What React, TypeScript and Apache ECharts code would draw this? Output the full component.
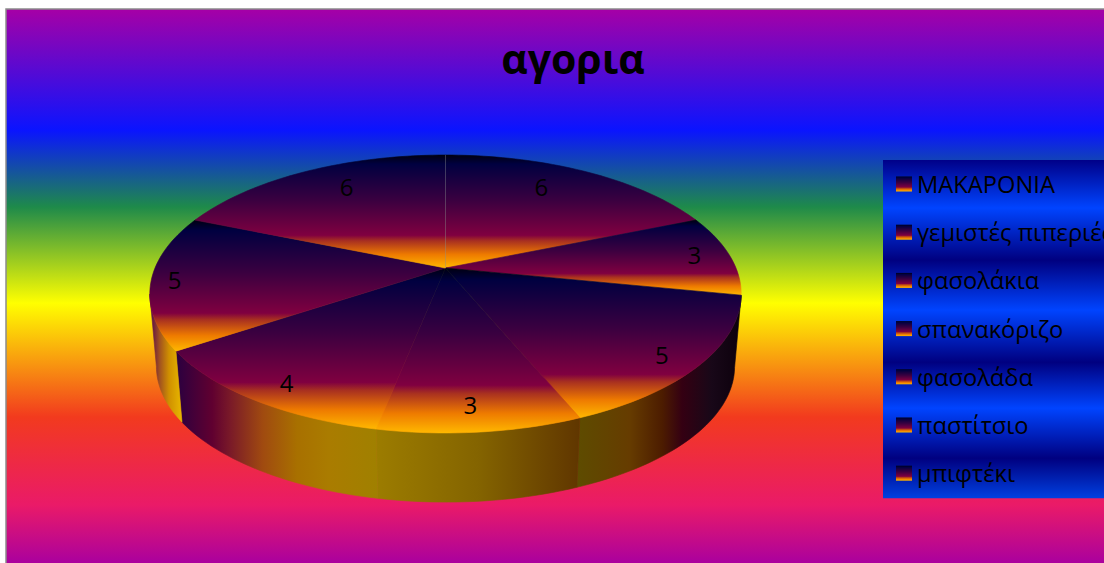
import React, { useEffect, useRef } from "react";
import * as echarts from "echarts";

const titleText = "αγορια";
const categories = ["ΜΑΚΑΡΟΝΙΑ", "γεμιστές πιπεριές", "φασολάκια", "σπανακόριζο", "φασολάδα", "παστίτσιο", "μπιφτέκι"];
const values = [6, 3, 5, 3, 4, 5, 6];

// Excel label placement relative to the slice's mid-radius anchor
const labelShift: [number, number][] = [[-6, -11], [49, -4], [45, 22], [2, 29], [-32, 27], [-66, 2], [3, -11]];

const grad = (x2: number, y2: number, stops: [number, string][]) =>
  new echarts.graphic.LinearGradient(0, 0, x2, y2, stops.map(([offset, color]) => ({ offset, color })));

const fireStops: [number, string][] = [
  [0, "#000010"], [0.08, "#000040"], [0.4, "#3a0040"], [0.71, "#800040"], [0.76, "#a83020"], [0.88, "#ee7a00"], [1, "#ffb800"],
];
const wallStops: Record<number, [number, string][]> = {
  2: [[0, "#5e4c00"], [0.32, "#663c00"], [0.52, "#4c1c00"], [0.64, "#340012"], [0.82, "#180818"], [1, "#0c000c"]],
  3: [[0, "#9c7c00"], [0.5, "#846400"], [1, "#603600"]],
  4: [[0, "#2a0040"], [0.18, "#600030"], [0.27, "#7a1a28"], [0.43, "#a04a10"], [0.6, "#a87000"], [0.76, "#aa7c00"], [1, "#a08000"]],
  5: [[0, "#500050"], [0.3, "#a05020"], [0.6, "#d09000"], [1, "#e8b800"]],
};
const pageStops: [number, string][] = [
  [0, "#a600a6"], [0.218, "#0a14ff"], [0.356, "#1e8a4a"], [0.529, "#ffff00"], [0.734, "#f23a1e"], [0.892, "#ea1a68"], [1, "#a800a0"],
];
const legendStops: [number, string][] = [
  [0, "#000088"], [0.142, "#0044ff"], [0.296, "#000080"], [0.444, "#0044ff"], [0.598, "#000080"], [0.734, "#0044ff"], [0.882, "#000080"], [1, "#0040e0"],
];

const total = values.reduce((a, b) => a + b, 0);
const DEG = Math.PI / 180;
const top = { cx: 445.5, cy: 268, a: 290.5, b: 134.1, k: 0.187 };
const bottom = { cx: 445.5, cy: 341, a: 284, b: 131, k: 0.187 };
const project = (p: typeof top, deg: number, r = 1): [number, number] => {
  const s = Math.sin(deg * DEG), c = Math.cos(deg * DEG);
  const d = 1 + p.k * r * c;
  return [p.cx + (p.a * r * s) / d, p.cy - (p.b * r * c) / d];
};
const arc = (p: typeof top, from: number, to: number) => {
  const n = Math.max(2, Math.ceil(Math.abs(to - from) / 1.5));
  const pts: [number, number][] = [];
  for (let i = 0; i <= n; i++) pts.push(project(p, from + ((to - from) * i) / n));
  return pts;
};
// the wall is visible where the rim faces the viewer
const wallFrom = Math.acos(-top.k) / DEG;
const wallTo = 360 - wallFrom;

const renderSlice = (index: number) => () => {
  const start = (values.slice(0, index).reduce((a, b) => a + b, 0) / total) * 360;
  const end = start + (values[index] / total) * 360;
  const children: any[] = [];
  const a = Math.max(start, wallFrom), b = Math.min(end, wallTo);
  if (b > a && wallStops[index]) {
    const fill = grad(1, 0, wallStops[index]);
    children.push({
      type: "polygon",
      shape: { points: [...arc(top, a, b), ...arc(bottom, b, a)] },
      style: { fill, stroke: fill, lineWidth: 0.6 },
    });
  }
  const fill = grad(0, 1, fireStops);
  children.push({
    type: "polygon",
    shape: { points: [[top.cx, top.cy], ...arc(top, start, end)] },
    style: { fill, stroke: fill, lineWidth: 0.6 },
    z2: 2,
  });
  if (index === 0) {
    // faint seam between the first and the last slice
    const [rx, ry] = project(top, start);
    children.push({
      type: "line",
      shape: { x1: top.cx, y1: top.cy, x2: rx, y2: ry },
      style: { stroke: "rgba(140,140,140,0.4)", lineWidth: 1 },
      z2: 3,
    });
  }
  const [lx, ly] = project(top, (start + end) / 2, 0.7);
  children.push({
    type: "text",
    x: lx + labelShift[index][0],
    y: ly + labelShift[index][1],
    style: {
      text: String(values[index]),
      fill: "#000",
      font: '24px "Open Sans"',
      align: "center",
      verticalAlign: "middle",
    },
    z2: 10,
  });
  return { type: "group", children };
};

export default function App() {
  const ref = useRef<HTMLDivElement>(null);
  useEffect(() => {
    const chart = echarts.init(ref.current!, undefined, { renderer: "svg" });
    chart.setOption({
      animation: false,
      title: {
        text: titleText,
        left: 573,
        top: 37,
        textAlign: "center",
        textStyle: { fontFamily: "Open Sans", fontWeight: "bold", fontSize: 41, color: "#000" },
        padding: 0,
      },
      graphic: [
        {
          type: "rect",
          z: -10,
          shape: { x: 6, y: 9, width: 1100, height: 556 },
          style: { fill: grad(0, 1, pageStops), stroke: "#8c8c8c", lineWidth: 1.5 },
        },
      ],
      legend: {
        orient: "vertical",
        left: 883,
        top: 160,
        itemWidth: 16,
        itemHeight: 15,
        itemGap: 24.2,
        padding: [12, 60, 13, 13],
        selectedMode: false,
        backgroundColor: grad(0, 1, legendStops),
        textStyle: { fontFamily: "Open Sans", fontSize: 23.7, color: "#000" },
        data: categories.map((name) => ({ name, icon: "rect", itemStyle: { color: grad(0, 1, fireStops) } })),
      },
      series: categories.map((name, i) => ({
        type: "custom",
        name,
        coordinateSystem: "none",
        silent: true,
        data: [values[i]],
        renderItem: renderSlice(i),
      })),
    });
    return () => chart.dispose();
  }, []);
  return <div ref={ref} style={{ position: "absolute", left: 0, top: 0, width: 1104, height: 563, overflow: "hidden" }} />;
}
